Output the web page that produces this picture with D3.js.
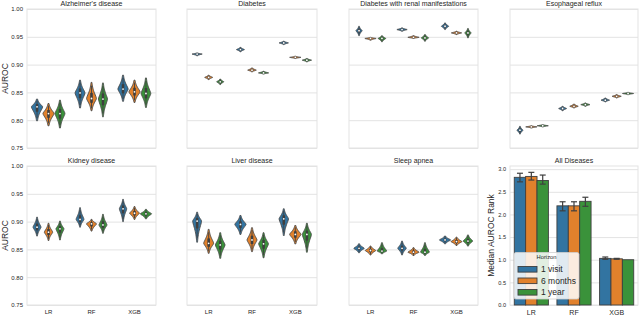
<!DOCTYPE html>
<html>
<head>
<meta charset="utf-8">
<script src="https://cdn.jsdelivr.net/npm/d3@7"></script>
<style>
  body { margin: 0; background: #fff; }
  text { font-family: "Liberation Sans", Arial, sans-serif; fill: #262626; }
</style>
</head>
<body>
<div id="chart"></div>
<script>
// categories
var diseases = ["Alzheimer's disease", "Diabetes", "Diabetes with renal manifestations", "Esophageal reflux",
                "Kidney disease", "Liver disease", "Sleep apnea"];
var models = ["LR", "RF", "XGB"];
var horizons = ["1 visit", "6 months", "1 year"];
var aurocTicks = [0.75, 0.80, 0.85, 0.90, 0.95, 1.00];
var rankTicks = [0.0, 0.5, 1.0, 1.5, 2.0, 2.5, 3.0];

// AUROC distribution per model (rows) and horizon (cols): [min, median, max]
var alzheimer = [
  [[0.799, 0.824, 0.838], [0.790, 0.812, 0.830], [0.786, 0.812, 0.836]],
  [[0.822, 0.849, 0.872], [0.817, 0.839, 0.868], [0.806, 0.838, 0.867]],
  [[0.834, 0.856, 0.881], [0.832, 0.851, 0.872], [0.823, 0.848, 0.876]]
];
var diabetes = [
  [[0.916, 0.919, 0.921], [0.873, 0.877, 0.881], [0.864, 0.869, 0.874]],
  [[0.923, 0.927, 0.931], [0.887, 0.890, 0.894], [0.883, 0.885, 0.888]],
  [[0.936, 0.939, 0.942], [0.911, 0.913, 0.915], [0.905, 0.908, 0.911]]
];
var diabetesRenal = [
  [[0.952, 0.961, 0.969], [0.944, 0.947, 0.949], [0.941, 0.947, 0.952]],
  [[0.960, 0.963, 0.966], [0.947, 0.949, 0.952], [0.942, 0.948, 0.954]],
  [[0.963, 0.969, 0.975], [0.954, 0.957, 0.960], [0.948, 0.957, 0.965]]
];
var esophageal = [
  [[0.775, 0.782, 0.789], [0.786, 0.788, 0.790], [0.788, 0.790, 0.792]],
  [[0.817, 0.821, 0.825], [0.822, 0.825, 0.829], [0.825, 0.828, 0.831]],
  [[0.833, 0.836, 0.840], [0.840, 0.843, 0.846], [0.846, 0.848, 0.850]]
];
var kidney = [
  [[0.874, 0.890, 0.908], [0.866, 0.881, 0.897], [0.867, 0.887, 0.901]],
  [[0.890, 0.904, 0.925], [0.883, 0.896, 0.904], [0.879, 0.894, 0.913]],
  [[0.900, 0.923, 0.940], [0.904, 0.915, 0.927], [0.905, 0.914, 0.922]]
];
var liver = [
  [[0.863, 0.901, 0.917], [0.843, 0.861, 0.886], [0.834, 0.858, 0.880]],
  [[0.877, 0.895, 0.911], [0.846, 0.867, 0.889], [0.835, 0.860, 0.880]],
  [[0.875, 0.905, 0.923], [0.860, 0.877, 0.893], [0.845, 0.877, 0.897]]
];
var sleepApnea = [
  [[0.844, 0.852, 0.860], [0.840, 0.848, 0.856], [0.842, 0.847, 0.862]],
  [[0.840, 0.852, 0.865], [0.839, 0.845, 0.853], [0.839, 0.845, 0.862]],
  [[0.860, 0.867, 0.874], [0.857, 0.864, 0.872], [0.856, 0.865, 0.876]]
];
var violinSets = [alzheimer, diabetes, diabetesRenal, esophageal, kidney, liver, sleepApnea];

// All Diseases: median AUROC rank with error bars
var rankMedian = [[2.82, 2.84, 2.75], [2.19, 2.19, 2.29], [1.03, 1.02, 1.00]];
var rankLow    = [[2.72, 2.76, 2.67], [2.08, 2.08, 2.18], [1.01, 1.01, 1.00]];
var rankHigh   = [[2.91, 2.93, 2.87], [2.28, 2.28, 2.38], [1.06, 1.03, 1.00]];

var colors = ["#3274a1", "#e1812c", "#3a923a"];
var edge = "#3f3f3f";
var gridColor = "#e3e3e3";

var colX = [[27, 156], [187, 317], [349, 478], [510, 638]];
var rowY = [[9, 148], [166, 305]];

var svg = d3.select("#chart").append("svg")
    .attr("width", 640).attr("height", 315);

function drawPanel(i) {
    var col = i % 4, row = Math.floor(i / 4);
    var x0 = colX[col][0], x1 = colX[col][1];
    var y0 = rowY[row][0], y1 = rowY[row][1];
    var isBar = (i == 7);

    var y = isBar ? d3.scaleLinear().domain([0, 3.07]).range([y1, y0])
                  : d3.scaleLinear().domain([0.75, 1.0]).range([y1, y0]);
    var x = d3.scaleBand().domain(models).range([x0, x1]);
    var hue = d3.scaleBand().domain(horizons).range([0.1 * x.bandwidth(), 0.9 * x.bandwidth()]);

    var g = svg.append("g");

    // grid + y tick labels
    var yAxis = d3.axisLeft(y).tickValues(isBar ? rankTicks : aurocTicks)
        .tickSize(-(x1 - x0)).tickPadding(4)
        .tickFormat(isBar ? d3.format(".1f") : d3.format(".2f"));
    var ya = g.append("g").attr("transform", "translate(" + x0 + ",0)").call(yAxis);
    ya.select(".domain").remove();
    ya.selectAll("line").attr("stroke", gridColor).attr("stroke-width", 1);
    ya.selectAll("text").style("font-size", isBar ? "5.6px" : "6px")
        .attr("font-family", null).attr("fill", "#262626");
    if (col != 0 && !isBar) ya.selectAll("text").remove();

    // frame
    g.append("rect").attr("x", x0).attr("y", y0)
        .attr("width", x1 - x0).attr("height", y1 - y0)
        .attr("fill", "none").attr("stroke", gridColor).attr("stroke-width", 1);

    // title
    g.append("text").attr("x", (x0 + x1) / 2).attr("y", y0 - 3)
        .attr("text-anchor", "middle").style("font-size", "7px")
        .text(isBar ? "All Diseases" : diseases[i]);

    // x tick labels on bottom row
    if (row == 1) {
        var xa = g.append("g").attr("transform", "translate(0," + y1 + ")")
            .call(d3.axisBottom(x).tickSize(0).tickPadding(isBar ? 5 : 5));
        xa.select(".domain").remove();
        xa.selectAll("text").style("font-size", isBar ? "7px" : "6px")
            .attr("font-family", null).attr("fill", "#262626");
    }

    if (isBar) drawBars(g, x, hue, y);
    else drawViolins(g, violinSets[i], x, hue, y);
}

function drawViolins(g, data, x, hue, y) {
    var maxHalf = hue.bandwidth() / 2;
    var ranges = [];
    data.forEach(function(r) { r.forEach(function(v) { ranges.push(v[2] - v[0]); }); });
    var minRange = d3.min(ranges);

    var area = d3.area().curve(d3.curveBasis)
        .x0(function(d) { return d.cx - d.w; })
        .x1(function(d) { return d.cx + d.w; })
        .y(function(d) { return d.y; });

    models.forEach(function(m, mi) {
        horizons.forEach(function(h, hi) {
            var v = data[mi][hi];
            var cx = x(m) + hue(h) + hue.bandwidth() / 2;
            var half = maxHalf * Math.max(0.4, Math.sqrt(minRange / (v[2] - v[0])));
            var pts = [];
            var zMax = 2.6, n = 14;
            for (var k = n; k >= -n; k--) {
                var z = zMax * k / n;
                var val = z >= 0 ? v[1] + (v[2] - v[1]) * z / zMax : v[1] + (v[1] - v[0]) * z / zMax;
                pts.push({cx: cx, y: y(val), w: half * Math.exp(-Math.pow(Math.abs(z), 1.4) / 1.6)});
            }
            g.append("path").attr("d", area(pts))
                .attr("fill", colors[hi]).attr("stroke", "#4a4a4a").attr("stroke-width", 0.9);

            // inner box
            g.append("line").attr("x1", cx).attr("x2", cx)
                .attr("y1", y(v[1] - 0.8 * (v[1] - v[0]))).attr("y2", y(v[1] + 0.8 * (v[2] - v[1])))
                .attr("stroke", edge).attr("stroke-width", 0.9);
            g.append("line").attr("x1", cx).attr("x2", cx)
                .attr("y1", y(v[1] - 0.35 * (v[1] - v[0]))).attr("y2", y(v[1] + 0.35 * (v[2] - v[1])))
                .attr("stroke", edge).attr("stroke-width", 2.6);
            g.append("circle").attr("cx", cx).attr("cy", y(v[1])).attr("r", 0.9)
                .attr("fill", "white");
        });
    });
}

function drawBars(g, x, hue, y) {
    models.forEach(function(m, mi) {
        horizons.forEach(function(h, hi) {
            var bx = x(m) + hue(h);
            var cx = bx + hue.bandwidth() / 2;
            g.append("rect").attr("x", bx).attr("y", y(rankMedian[mi][hi]))
                .attr("width", hue.bandwidth()).attr("height", y(0) - y(rankMedian[mi][hi]))
                .attr("fill", colors[hi]).attr("stroke", edge).attr("stroke-width", 0.9);
            var lo = y(rankLow[mi][hi]), up = y(rankHigh[mi][hi]);
            if (Math.abs(lo - up) > 0.3) {
                g.append("line").attr("x1", cx).attr("x2", cx).attr("y1", lo).attr("y2", up)
                    .attr("stroke", edge).attr("stroke-width", 1.2);
                [lo, up].forEach(function(yy) {
                    g.append("line").attr("x1", cx - 3).attr("x2", cx + 3).attr("y1", yy).attr("y2", yy)
                        .attr("stroke", edge).attr("stroke-width", 1.2);
                });
            }
        });
    });

    // legend
    var lg = g.append("g").attr("transform", "translate(514,252.5)");
    lg.append("rect").attr("width", 65).attr("height", 46.5).attr("rx", 2)
        .attr("fill", "white").attr("fill-opacity", 0.85)
        .attr("stroke", "#d0d0d0").attr("stroke-width", 0.8);
    lg.append("text").attr("x", 32.5).attr("y", 6.8).attr("text-anchor", "middle")
        .style("font-size", "5.8px").text("Horizon");
    horizons.forEach(function(h, hi) {
        var cy = 16.8 + hi * 11.5;
        lg.append("rect").attr("x", 4).attr("y", cy - 2.8).attr("width", 19).attr("height", 5.6)
            .attr("fill", colors[hi]).attr("stroke", edge).attr("stroke-width", 0.9);
        lg.append("text").attr("x", 27).attr("y", cy + 3).style("font-size", "8.5px").text(h);
    });
}

for (var i = 0; i < 8; i++) drawPanel(i);

// y labels
svg.append("text").attr("transform", "translate(8,78.5) rotate(-90)")
    .attr("text-anchor", "middle").style("font-size", "8.5px").text("AUROC");
svg.append("text").attr("transform", "translate(8,235.5) rotate(-90)")
    .attr("text-anchor", "middle").style("font-size", "8.5px").text("AUROC");
svg.append("text").attr("transform", "translate(494,235.5) rotate(-90)")
    .attr("text-anchor", "middle").style("font-size", "8.5px").text("Median AUROC Rank");
</script>
</body>
</html>
